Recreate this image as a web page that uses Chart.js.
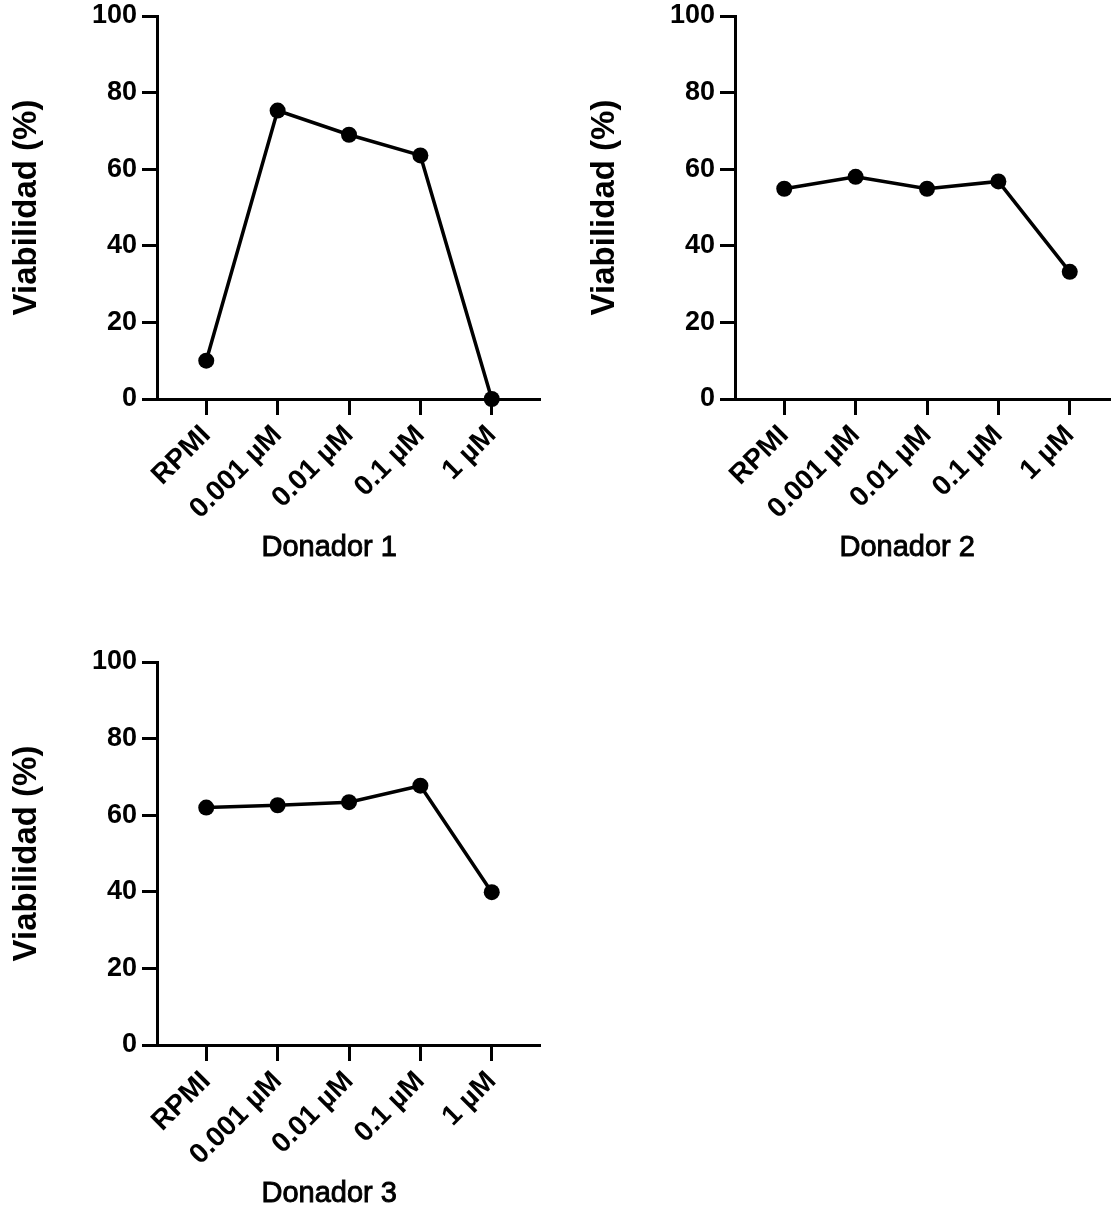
<!DOCTYPE html>
<html>
<head>
<meta charset="utf-8">
<script src="https://cdn.jsdelivr.net/npm/chart.js@4"></script>
<style>
  html, body { margin: 0; padding: 0; background: #fff; overflow: hidden; width: 1111px; height: 1206px; }
  canvas { position: absolute; }
</style>
</head>
<body>
<canvas id="c1" width="541" height="580" style="left:0;top:0"></canvas>
<canvas id="c2" width="541" height="580" style="left:578px;top:0"></canvas>
<canvas id="c3" width="541" height="580" style="left:0;top:646px"></canvas>
<script>
// doses on the x axis
const categories = ['RPMI', '0.001 µM', '0.01 µM', '0.1 µM', '1 µM'];
const yTicks = [0, 20, 40, 60, 80, 100];

// viability (%) per donor
const donador1 = [10, 75.3, 69, 63.6, 0];
const donador2 = [54.9, 58, 54.9, 56.8, 33.2];
const donador3 = [62, 62.6, 63.4, 67.7, 39.9];

const FONT = "'Liberation Sans', Arial, Helvetica, sans-serif";
const TICK_FONT = { family: FONT, size: 28, weight: 'bold' };

// x caption, centred under the slanted tick labels rather than the axis
const caption = {
  id: 'caption',
  afterDraw(chart, args, opts) {
    const { ctx, chartArea } = chart;
    const sx = chart.scales.x;
    ctx.save();
    ctx.font = `bold ${TICK_FONT.size}px ${FONT}`;
    let lo = Infinity, hi = -Infinity;
    categories.forEach((c, i) => {
      const px = sx.getPixelForValue(i);
      lo = Math.min(lo, px - ctx.measureText(c).width * Math.SQRT1_2);
      hi = Math.max(hi, px + TICK_FONT.size * 0.35);
    });
    ctx.font = `29px ${FONT}`;
    ctx.fillStyle = '#000';
    ctx.strokeStyle = '#000';
    ctx.lineWidth = 0.9;
    ctx.textAlign = 'center';
    ctx.textBaseline = 'middle';
    const y = chartArea.bottom + 149;
    ctx.fillText(opts.text, (lo + hi) / 2, y);
    ctx.strokeText(opts.text, (lo + hi) / 2, y);
    ctx.restore();
  }
};

function panel(id, title, values) {
  const ctx = document.getElementById(id).getContext('2d');
  return new Chart(ctx, {
    type: 'line',
    data: {
      datasets: [{
        data: values.map((v, i) => ({ x: i, y: v })),
        borderColor: '#000',
        backgroundColor: '#000',
        borderWidth: 3.5,
        pointRadius: 8,
        pointHoverRadius: 8,
        pointBorderWidth: 0,
        tension: 0,
        clip: false
      }]
    },
    plugins: [caption],
    options: {
      responsive: false,
      animation: false,
      devicePixelRatio: 1,
      layout: { autoPadding: false, padding: { top: 16, right: 0, left: 0, bottom: 0 } },
      plugins: {
        legend: { display: false },
        tooltip: { enabled: false },
        caption: { text: title }
      },
      scales: {
        x: {
          type: 'linear',
          min: -0.69,
          max: 4.69,
          afterBuildTicks: s => { s.ticks = categories.map((_, i) => ({ value: i })); },
          afterFit: s => { s.height = 181; s.paddingLeft = 0; s.paddingRight = 0; },
          grid: { drawOnChartArea: false, tickLength: 16, lineWidth: 3, color: '#000' },
          border: { color: '#000', width: 3 },
          ticks: {
            autoSkip: false,
            maxRotation: 45,
            minRotation: 45,
            padding: 4,
            color: '#000',
            font: TICK_FONT,
            callback: v => categories[v]
          }
        },
        y: {
          min: 0,
          max: 100,
          afterBuildTicks: s => { s.ticks = yTicks.map(v => ({ value: v })); },
          afterFit: s => { s.width = 157; s.paddingTop = 0; s.paddingBottom = 0; },
          grid: { drawOnChartArea: false, tickLength: 15, lineWidth: 3, color: '#000' },
          border: { color: '#000', width: 3 },
          ticks: {
            padding: 5,
            color: '#000',
            font: { family: FONT, size: 27, weight: 'bold' }
          },
          title: {
            display: true,
            text: 'Viabilidad (%)',
            color: '#000',
            font: { family: FONT, size: 33, weight: 'bold' },
            padding: { top: 7, bottom: 0 }
          }
        }
      }
    }
  });
}

panel('c1', 'Donador 1', donador1);
panel('c2', 'Donador 2', donador2);
panel('c3', 'Donador 3', donador3);
</script>
</body>
</html>
